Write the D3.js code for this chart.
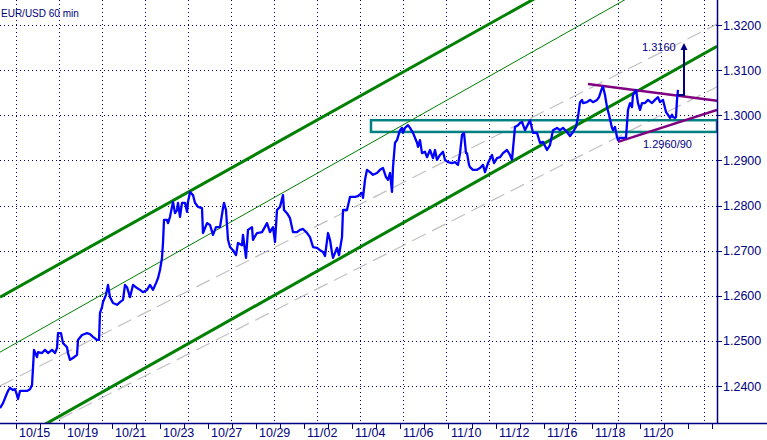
<!DOCTYPE html>
<html><head><meta charset="utf-8">
<script src="https://cdn.jsdelivr.net/npm/d3@7/dist/d3.min.js"></script>
<style>
html,body{margin:0;padding:0;background:#fff;}
svg{display:block;font-family:"Liberation Sans",Arial,sans-serif;}
</style></head>
<body>
<svg id="c" width="767" height="440"></svg>
<script>
// ---- data ----
const title = "EUR/USD 60 min";
const yTicks = [1.24,1.25,1.26,1.27,1.28,1.29,1.30,1.31,1.32];
const xLabels = ["10/15","10/19","10/21","10/23","10/27","10/29","11/02","11/04","11/06","11/10","11/12","11/16","11/18","11/20"];
const xLabelHours = [0,48,96,144,192,240,288,336,384,432,480,528,576,624];
const dayTickHours = [0,24,48,72,96,120,144,168,192,216,240,264,288,312,336,360,384,408,432,456,480,504,528,552,576,600,624,648,672,696];
const gridHours = [0,43,86,129,172,215,258,301,344,387,430,473,516,559,602,645,688];
// price series: [hour, pixel-read level] converted to price below
const pricePx = [[0,408],[3,403],[7,393],[8,391],[10,388],[13,390],[15,389],[17,395],[18,399],[20,391],[23,391],[27,391],[30,389],[32,385],[33,368],[34,350],[37,357],[38,352],[42,353],[45,350],[48,353],[52,350],[55,353],[57,348],[58,333],[61,333],[63,343],[67,347],[68,353],[70,360],[73,358],[77,355],[78,340],[82,335],[87,333],[90,334],[93,337],[97,340],[99,340],[100,313],[102,307],[103,302],[106,295],[108,285],[110,297],[113,303],[117,305],[120,302],[123,300],[125,285],[127,287],[130,297],[133,285],[137,288],[140,290],[143,292],[147,290],[150,285],[153,290],[156,283],[158,278],[160,270],[162,258],[163,243],[164,220],[167,220],[168,223],[170,217],[172,207],[173,202],[175,213],[177,210],[178,203],[180,217],[182,203],[185,203],[187,212],[188,202],[190,192],[193,195],[195,203],[198,207],[202,208],[203,233],[207,223],[210,225],[213,235],[216,227],[220,227],[223,208],[224,203],[226,210],[228,240],[230,247],[233,250],[236,255],[238,243],[242,245],[243,235],[246,258],[248,230],[252,227],[253,240],[257,233],[262,232],[267,223],[270,232],[273,227],[275,242],[277,210],[280,207],[283,195],[284,210],[287,213],[290,218],[293,232],[297,232],[300,230],[303,229],[307,233],[310,237],[313,247],[317,248],[320,250],[323,252],[325,256],[328,233],[330,240],[332,253],[333,258],[337,248],[339,255],[342,237],[343,210],[347,210],[350,197],[355,197],[358,196],[362,193],[363,198],[365,180],[367,170],[370,172],[373,175],[377,173],[380,170],[383,168],[386,177],[388,180],[390,173],[392,192],[393,167],[395,143],[397,140],[400,130],[402,128],[403,133],[405,128],[408,125],[410,128],[413,133],[417,143],[418,147],[420,140],[422,153],[425,152],[427,157],[430,150],[433,158],[435,150],[437,160],[440,155],[443,152],[445,160],[448,162],[452,163],[455,162],[458,165],[460,153],[462,135],[464,133],[466,153],[467,153],[469,165],[470,167],[473,170],[477,170],[480,168],[483,165],[485,172],[488,163],[492,155],[494,163],[497,158],[500,157],[503,153],[507,150],[510,155],[512,160],[515,127],[518,125],[520,123],[522,122],[525,130],[530,120],[533,133],[537,133],[540,143],[543,142],[547,150],[550,145],[553,130],[557,128],[560,130],[563,128],[567,132],[570,136],[573,132],[576,127],[578,117],[580,102],[582,100],[583,103],[587,102],[590,100],[593,102],[597,100],[599,97],[602,88],[603,87],[605,95],[607,107],[609,115],[612,128],[613,130],[615,127],[617,137],[618,140],[620,138],[623,138],[626,138],[628,110],[630,103],[632,107],[633,95],[636,90],[638,103],[640,110],[642,103],[645,103],[648,100],[652,103],[655,100],[658,97],[660,102],[663,100],[666,112],[668,115],[670,118],[672,115],[673,117],[675,118],[676,117],[677,100],[678,90]];
const priceData = pricePx.map(p => [p[0]-16, +(1.32 - (p[1]-25)/4512.5).toFixed(4)]);
// channel lines: [[hour, price],[hour, price]]
const upperChannel = [[-16,1.2597],[701,1.3484]];
const midChannel   = [[-16,1.2475],[701,1.3371]];
const lowerChannel = [[-16,1.2259],[701,1.3153]];
const grayA = [[-16,1.2400],[701,1.3202]];
const grayB = [[-16,1.2260],[701,1.3063]];
const zone = {h0:355, h1:701, p0:1.2963, p1:1.2989};
const triUpper = [[572,1.3069],[701,1.3032]];
const triLower = [[602,1.2941],[701,1.3012]];
const arrowPts = [[662,1.3045],[668,1.3045],[668,1.3160]];
const targetLabel = {h:626, p:1.3143, text:"1.3160"};
const zoneLabel = {h:627, p:1.2928, text:"1.2960/90"};

// ---- drawing ----
const svg = d3.select("#c");
const navy = "#000080";
const x = d3.scaleLinear().domain([-16,701]).range([0,717]);
const y = d3.scaleLinear().domain([1.24,1.32]).range([386,25]);
const plotR = 717, plotB = 423;

svg.append("defs").append("clipPath").attr("id","clip")
  .append("rect").attr("x",0).attr("y",0).attr("width",plotR).attr("height",plotB);

// grid
const g = svg.append("g");
g.selectAll(".hg").data(yTicks).join("line")
  .attr("x1",0).attr("x2",plotR).attr("y1",d=>Math.round(y(d))+0.5).attr("y2",d=>Math.round(y(d))+0.5)
  .attr("stroke",navy).attr("stroke-width",1).attr("stroke-dasharray","1,3");
g.selectAll(".vg").data(gridHours).join("line")
  .attr("x1",d=>Math.round(x(d))+0.5).attr("x2",d=>Math.round(x(d))+0.5).attr("y1",0).attr("y2",plotB)
  .attr("stroke",navy).attr("stroke-width",1).attr("stroke-dasharray","1,3");

const line = d3.line().x(d=>x(d[0])).y(d=>y(d[1]));
const clipG = svg.append("g").attr("clip-path","url(#clip)");

// gray dashed
[grayA, grayB].forEach(l => clipG.append("path").attr("d",line(l)).attr("fill","none")
  .attr("stroke","#c0c0c0").attr("stroke-width",1.2).attr("stroke-dasharray","15,7"));

// zone rect
clipG.append("rect").attr("x",x(zone.h0)).attr("y",y(zone.p1))
  .attr("width",x(zone.h1)-x(zone.h0)).attr("height",y(zone.p0)-y(zone.p1))
  .attr("fill","none").attr("stroke","#008080").attr("stroke-width",2.5);

// channel
clipG.append("path").attr("d",line(upperChannel)).attr("fill","none").attr("stroke","#008000").attr("stroke-width",3);
clipG.append("path").attr("d",line(midChannel)).attr("fill","none").attr("stroke","#008000").attr("stroke-width",1);
clipG.append("path").attr("d",line(lowerChannel)).attr("fill","none").attr("stroke","#008000").attr("stroke-width",3);

// triangle
[triUpper, triLower].forEach(l => clipG.append("path").attr("d",line(l)).attr("fill","none")
  .attr("stroke","#800080").attr("stroke-width",2.5));

// price
clipG.append("path").attr("d",line(priceData)).attr("fill","none")
  .attr("stroke","#0000ff").attr("stroke-width",2.3).attr("stroke-linejoin","round");

// arrow
clipG.append("path").attr("d",line(arrowPts.slice(0,2).concat([[arrowPts[2][0], arrowPts[2][1]-0.0012]])))
  .attr("fill","none").attr("stroke",navy).attr("stroke-width",2);
const tip = arrowPts[2];
clipG.append("path")
  .attr("d",`M${x(tip[0])},${y(tip[1])} L${x(tip[0])-3.5},${y(tip[1])+7} L${x(tip[0])+3.5},${y(tip[1])+7} Z`)
  .attr("fill",navy);

// annotation labels
svg.append("text").attr("x",x(targetLabel.h)).attr("y",y(targetLabel.p)).text(targetLabel.text)
  .attr("font-size",11).attr("fill",navy);
svg.append("text").attr("x",x(zoneLabel.h)).attr("y",y(zoneLabel.p)).text(zoneLabel.text)
  .attr("font-size",11).attr("fill",navy);

// axes
svg.append("line").attr("x1",plotR+0.5).attr("x2",plotR+0.5).attr("y1",0).attr("y2",plotB)
  .attr("stroke",navy).attr("stroke-width",1.5);
svg.append("line").attr("x1",0).attr("x2",767).attr("y1",plotB+0.5).attr("y2",plotB+0.5)
  .attr("stroke",navy).attr("stroke-width",1.5);
svg.selectAll(".yt").data(yTicks).join("line")
  .attr("x1",plotR).attr("x2",plotR+5).attr("y1",d=>Math.round(y(d))+0.5).attr("y2",d=>Math.round(y(d))+0.5)
  .attr("stroke",navy).attr("stroke-width",1);
svg.selectAll(".yl").data(yTicks).join("text")
  .attr("x",plotR+6).attr("y",d=>y(d)).attr("dy","0.36em")
  .attr("font-size",12.5).attr("fill",navy).text(d=>d.toFixed(4));
svg.selectAll(".xt").data(dayTickHours).join("line")
  .attr("x1",d=>Math.round(x(d))+0.5).attr("x2",d=>Math.round(x(d))+0.5).attr("y1",plotB).attr("y2",plotB+6)
  .attr("stroke",navy).attr("stroke-width",1);
svg.selectAll(".xl").data(xLabels).join("text")
  .attr("x",(d,i)=>x(xLabelHours[i])+3).attr("y",437)
  .attr("font-size",12.5).attr("fill",navy).text(d=>d);

svg.append("text").attr("x",1).attr("y",17).text(title).attr("font-size",10).attr("fill",navy);
</script>
</body></html>
